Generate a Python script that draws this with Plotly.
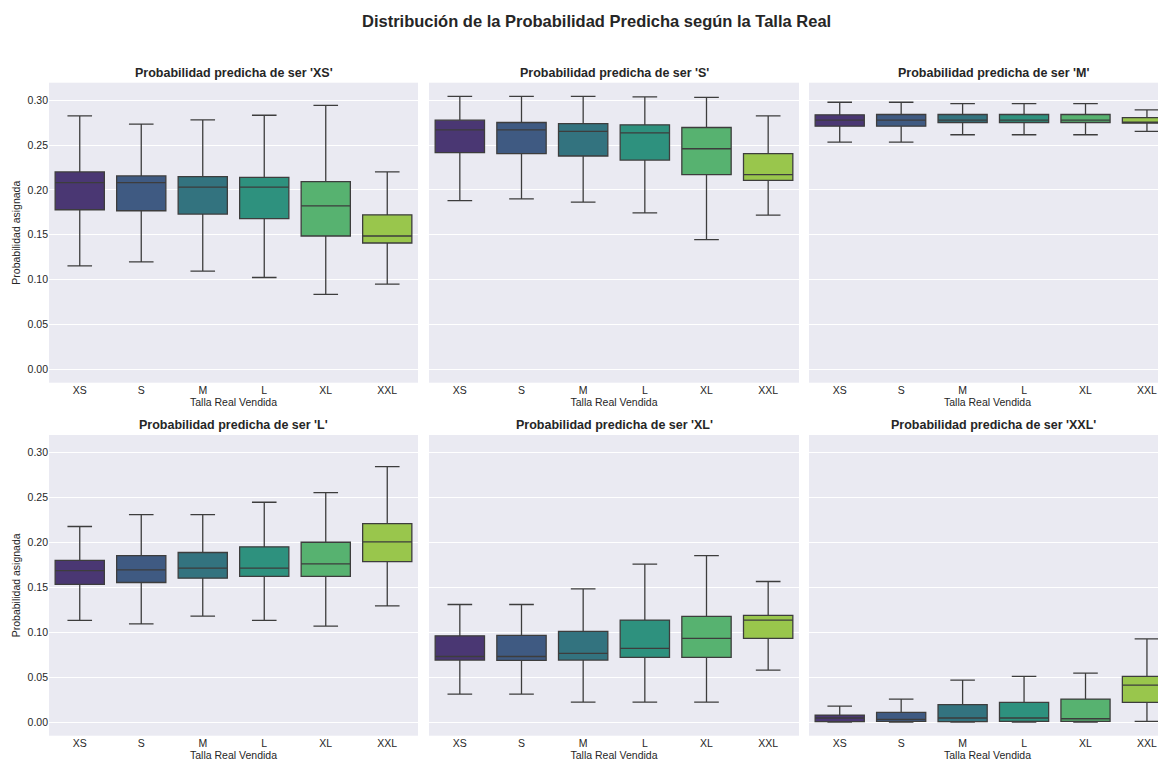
import plotly.graph_objects as go

sizes = ["XS", "S", "M", "L", "XL", "XXL"]
panel_titles = ["Probabilidad predicha de ser 'XS'", "Probabilidad predicha de ser 'S'",
                "Probabilidad predicha de ser 'M'", "Probabilidad predicha de ser 'L'",
                "Probabilidad predicha de ser 'XL'", "Probabilidad predicha de ser 'XXL'"]
colors = ["#4A3773", "#3F5A82", "#33737F", "#2E917E", "#57B270", "#99C64C"]

# per-panel box statistics per real size: lower whisker, q1, median, q3, upper whisker
xs_low = [0.1152, 0.1196, 0.1093, 0.1022, 0.0833, 0.0948]
xs_q1 = [0.1778, 0.1767, 0.1730, 0.1680, 0.1485, 0.1407]
xs_med = [0.2080, 0.2080, 0.2030, 0.2030, 0.1822, 0.1485]
xs_q3 = [0.2200, 0.2156, 0.2148, 0.2140, 0.2093, 0.1722]
xs_high = [0.2826, 0.2733, 0.2781, 0.2833, 0.2944, 0.2200]

s_low = [0.1881, 0.1900, 0.1863, 0.1744, 0.1444, 0.1719]
s_q1 = [0.2415, 0.2404, 0.2378, 0.2333, 0.2170, 0.2107]
s_med = [0.2670, 0.2670, 0.2652, 0.2637, 0.2459, 0.2170]
s_q3 = [0.2778, 0.2752, 0.2740, 0.2726, 0.2696, 0.2404]
s_high = [0.3044, 0.3044, 0.3044, 0.3037, 0.3033, 0.2826]

m_low = [0.2533, 0.2533, 0.2615, 0.2615, 0.2615, 0.2652]
m_q1 = [0.2711, 0.2711, 0.2752, 0.2752, 0.2752, 0.2744]
m_med = [0.2778, 0.2778, 0.2778, 0.2778, 0.2778, 0.2756]
m_q3 = [0.2837, 0.2841, 0.2841, 0.2841, 0.2841, 0.2807]
m_high = [0.2978, 0.2978, 0.2963, 0.2963, 0.2963, 0.2893]

l_low = [0.1131, 0.1094, 0.1179, 0.1131, 0.1068, 0.1294]
l_q1 = [0.1532, 0.1554, 0.1602, 0.1621, 0.1621, 0.1787]
l_med = [0.1687, 0.1695, 0.1713, 0.1713, 0.1761, 0.2006]
l_q3 = [0.1799, 0.1854, 0.1888, 0.1951, 0.2002, 0.2210]
l_high = [0.2177, 0.2310, 0.2310, 0.2447, 0.2555, 0.2844]

xl_low = [0.0311, 0.0311, 0.0222, 0.0222, 0.0222, 0.0578]
xl_q1 = [0.0690, 0.0686, 0.0690, 0.0719, 0.0719, 0.0931]
xl_med = [0.0730, 0.0730, 0.0764, 0.0820, 0.0931, 0.1135]
xl_q3 = [0.0960, 0.0964, 0.1009, 0.1135, 0.1176, 0.1187]
xl_high = [0.1309, 0.1309, 0.1483, 0.1758, 0.1854, 0.1565]

xxl_low = [0.0, 0.0, 0.0, 0.0, 0.0, 0.0007]
xxl_q1 = [0.0004, 0.0007, 0.0004, 0.0007, 0.0007, 0.0219]
xxl_med = [0.0045, 0.0030, 0.0045, 0.0045, 0.0037, 0.0412]
xxl_q3 = [0.0078, 0.0108, 0.0193, 0.0219, 0.0256, 0.0508]
xxl_high = [0.0178, 0.0256, 0.0467, 0.0508, 0.0545, 0.0927]

panels = [
    (xs_low, xs_q1, xs_med, xs_q3, xs_high),
    (s_low, s_q1, s_med, s_q3, s_high),
    (m_low, m_q1, m_med, m_q3, m_high),
    (l_low, l_q1, l_med, l_q3, l_high),
    (xl_low, xl_q1, xl_med, xl_q3, xl_high),
    (xxl_low, xxl_q1, xxl_med, xxl_q3, xxl_high),
]

# the page body adds an 8px margin; lay out in screen pixels and shift
OFF = 8
SW, SH = 1166, 762
W, H = SW - OFF, SH - OFF
ML = 49 - OFF
PW = W - ML
col_px = [(49, 418), (429, 799), (809, 1166)]
row_px = [(82.7, 382.7), (435, 735.7)]
x_dom = [[(a - OFF - ML) / PW, min(1.0, (b - OFF - ML) / PW)] for a, b in col_px]
y_dom = [[1 - (b - OFF) / H, 1 - (a - OFF) / H] for a, b in row_px]

FONT = "Liberation Sans, Arial, sans-serif"
TXT = "#262626"

fig = go.Figure()
layout = dict(
    width=W, height=H, margin=dict(l=ML, r=0, t=0, b=0),
    paper_bgcolor="white", plot_bgcolor="#EAEAF2",
    showlegend=False, boxmode="overlay",
    font=dict(family=FONT, color=TXT, size=11),
)

annotations = []
for p, stats in enumerate(panels):
    r, c = divmod(p, 3)
    idx = p + 1
    xa = "x" if idx == 1 else f"x{idx}"
    ya = "y" if idx == 1 else f"y{idx}"
    low, q1, med, q3, high = stats
    for i, s in enumerate(sizes):
        fig.add_trace(go.Box(
            x=[s], q1=[q1[i]], median=[med[i]], q3=[q3[i]],
            lowerfence=[low[i]], upperfence=[high[i]],
            fillcolor=colors[i], line=dict(color="#3d3d3d", width=1.3),
            width=0.8, whiskerwidth=0.5, boxpoints=False,
            xaxis=xa, yaxis=ya, hoverinfo="skip",
        ))
    xrange = [-0.5, 5.31] if c == 2 else [-0.5, 5.5]
    layout["xaxis" if idx == 1 else f"xaxis{idx}"] = dict(
        domain=x_dom[c], anchor=ya, type="category",
        categoryorder="array", categoryarray=sizes, range=xrange,
        showgrid=False, zeroline=False, showline=False, ticks="",
        tickfont=dict(size=10.5, color=TXT),
        title=dict(text="Talla Real Vendida", font=dict(size=10.5, color=TXT), standoff=2),
    )
    layout["yaxis" if idx == 1 else f"yaxis{idx}"] = dict(
        domain=y_dom[r], anchor=xa, range=[-0.0152, 0.3196],
        tickvals=[0, 0.05, 0.10, 0.15, 0.20, 0.25, 0.30], tickformat=".2f",
        showticklabels=(c == 0), showgrid=True, gridcolor="white", gridwidth=1.2,
        zeroline=False, showline=False, ticks="",
        tickfont=dict(size=10.5, color=TXT),
        title=dict(text="Probabilidad asignada" if c == 0 else "",
                   font=dict(size=10.5, color=TXT), standoff=4),
    )
    right = 1178 if c == 2 else col_px[c][1]
    cx = (col_px[c][0] + right) / 2 - OFF
    annotations.append(dict(
        text=f"<b>{panel_titles[p]}</b>", x=(cx - ML) / PW,
        y=1 - (row_px[r][0] - 10 - OFF) / H,
        xref="paper", yref="paper", xanchor="center", yanchor="middle",
        showarrow=False, font=dict(size=12.5, color=TXT, family=FONT),
    ))

annotations.append(dict(
    text="<b>Distribución de la Probabilidad Predicha según la Talla Real</b>",
    x=(596 - OFF - ML) / PW, y=1 - (21 - OFF) / H, xref="paper", yref="paper",
    xanchor="center", yanchor="middle", showarrow=False,
    font=dict(size=16.5, color=TXT, family=FONT),
))
layout["annotations"] = annotations

fig.update_layout(**layout)
fig.write_html("out.html")
